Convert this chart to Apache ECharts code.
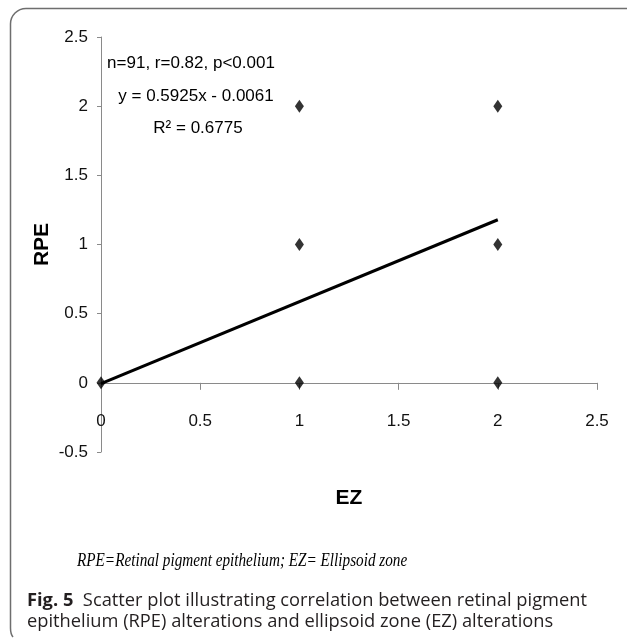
<!DOCTYPE html>
<html>
<head>
<meta charset="utf-8">
<script src="https://cdn.jsdelivr.net/npm/echarts@6/dist/echarts.min.js"></script>
<style>
  html, body { margin: 0; padding: 0; background: #ffffff; }
  #chart { width: 627px; height: 639px; }
</style>
</head>
<body>
<div id="chart"></div>
<script>
// ---- data ----
const ezValues  = [0, 1, 1, 1, 2, 2, 2];
const rpeValues = [0, 0, 1, 2, 0, 1, 2];
const trendEZ   = [0, 2];
const trendRPE  = [-0.0061, 1.1789];
const xAxisName = 'EZ';
const yAxisName = 'RPE';
const statLines = ['n=91, r=0.82, p<0.001', 'y = 0.5925x - 0.0061', 'R\u00B2 = 0.6775'];
const footnote  = 'RPE=Retinal pigment epithelium; EZ= Ellipsoid zone';
const captionBold = 'Fig. 5';
const captionLine1 = 'Scatter plot illustrating correlation between retinal pigment';
const captionLine2 = 'epithelium (RPE) alterations and ellipsoid zone (EZ) alterations';

const points = ezValues.map((x, i) => [x, rpeValues[i]]);
const trend = trendEZ.map((x, i) => [x, trendRPE[i]]);

const axisFont = '"Liberation Sans", Arial, sans-serif';
const capFont = '"Open Sans", "Noto Sans", sans-serif';
const borderStyle = { stroke: '#6e6e6e', lineWidth: 1.5, fill: null };
const chart = echarts.init(document.getElementById('chart'), null, { renderer: 'canvas' });

chart.setOption({
  animation: false,
  backgroundColor: '#ffffff',
  grid: { left: 101, top: 37, width: 496, height: 415, containLabel: false },
  xAxis: {
    type: 'value', min: 0, max: 2.5, interval: 0.5,
    name: xAxisName, nameLocation: 'middle', nameGap: 36,
    nameTextStyle: { fontFamily: axisFont, fontWeight: 'bold', fontSize: 21, color: '#000' },
    axisLine: { show: true, onZero: true, lineStyle: { color: '#8a8a8a', width: 1 } },
    axisTick: { show: true, inside: false, length: 7, lineStyle: { color: '#8a8a8a' } },
    axisLabel: { margin: -39, fontFamily: axisFont, fontSize: 17, color: '#111' },
    splitLine: { show: false }
  },
  yAxis: {
    type: 'value', min: -0.5, max: 2.5, interval: 0.5,
    name: yAxisName, nameLocation: 'middle', nameGap: 48, nameRotate: 90, nameMoveOverlap: false,
    nameTextStyle: { fontFamily: axisFont, fontWeight: 'bold', fontSize: 21, color: '#000' },
    axisLine: { show: true, onZero: false, lineStyle: { color: '#8a8a8a', width: 1 } },
    axisTick: { show: true, inside: false, length: 4, lineStyle: { color: '#8a8a8a' } },
    axisLabel: { margin: 13, fontFamily: axisFont, fontSize: 17, color: '#111' },
    splitLine: { show: false }
  },
  series: [
    {
      type: 'line', data: trend, showSymbol: false, symbol: 'none',
      lineStyle: { color: '#000', width: 3 }, z: 2
    },
    {
      type: 'scatter', data: points, symbol: 'diamond', symbolSize: [9, 13],
      itemStyle: { color: '#000' }, z: 3
    }
  ],
  graphic: [
    { type: 'line', silent: true, shape: { x1: 26, y1: 8.5, x2: 627, y2: 8.5 }, style: borderStyle },
    { type: 'arc', silent: true, shape: { cx: 26, cy: 24, r: 15.5, startAngle: Math.PI, endAngle: Math.PI * 1.5 }, style: borderStyle },
    { type: 'line', silent: true, shape: { x1: 10.5, y1: 24, x2: 10.5, y2: 628 }, style: borderStyle },
    { type: 'bezierCurve', silent: true, shape: { x1: 10.5, y1: 628, cpx1: 10.5, cpy1: 634, x2: 13, y2: 637 }, style: borderStyle },
    { type: 'text', style: { text: statLines[0], x: 191, y: 63, textAlign: 'center', textVerticalAlign: 'middle', font: '17px ' + axisFont, fill: '#000' } },
    { type: 'text', style: { text: statLines[1], x: 196, y: 96, textAlign: 'center', textVerticalAlign: 'middle', font: '17px ' + axisFont, fill: '#000' } },
    { type: 'text', style: { text: statLines[2], x: 198, y: 128, textAlign: 'center', textVerticalAlign: 'middle', font: '17px ' + axisFont, fill: '#000' } },
    { type: 'text', x: 77, y: 561, scaleX: 0.845, style: { text: footnote, x: 0, y: 0, textAlign: 'left', textVerticalAlign: 'middle', font: 'italic 18px "Liberation Serif", "Times New Roman", serif', fill: '#000' } },
    {
      type: 'text', x: 27, y: 601,
      style: {
        text: '{b|' + captionBold + '}  ' + captionLine1,
        x: 0, y: 0, textAlign: 'left', textVerticalAlign: 'middle',
        font: '18.3px ' + capFont, fill: '#231f20',
        rich: { b: { fontWeight: 'bold', fontSize: 18.3, fontFamily: capFont, fill: '#231f20' } }
      }
    },
    { type: 'text', x: 27, y: 622, style: { text: captionLine2, x: 0, y: 0, textAlign: 'left', textVerticalAlign: 'middle', font: '18.3px ' + capFont, fill: '#231f20' } }
  ]
});
</script>
</body>
</html>
